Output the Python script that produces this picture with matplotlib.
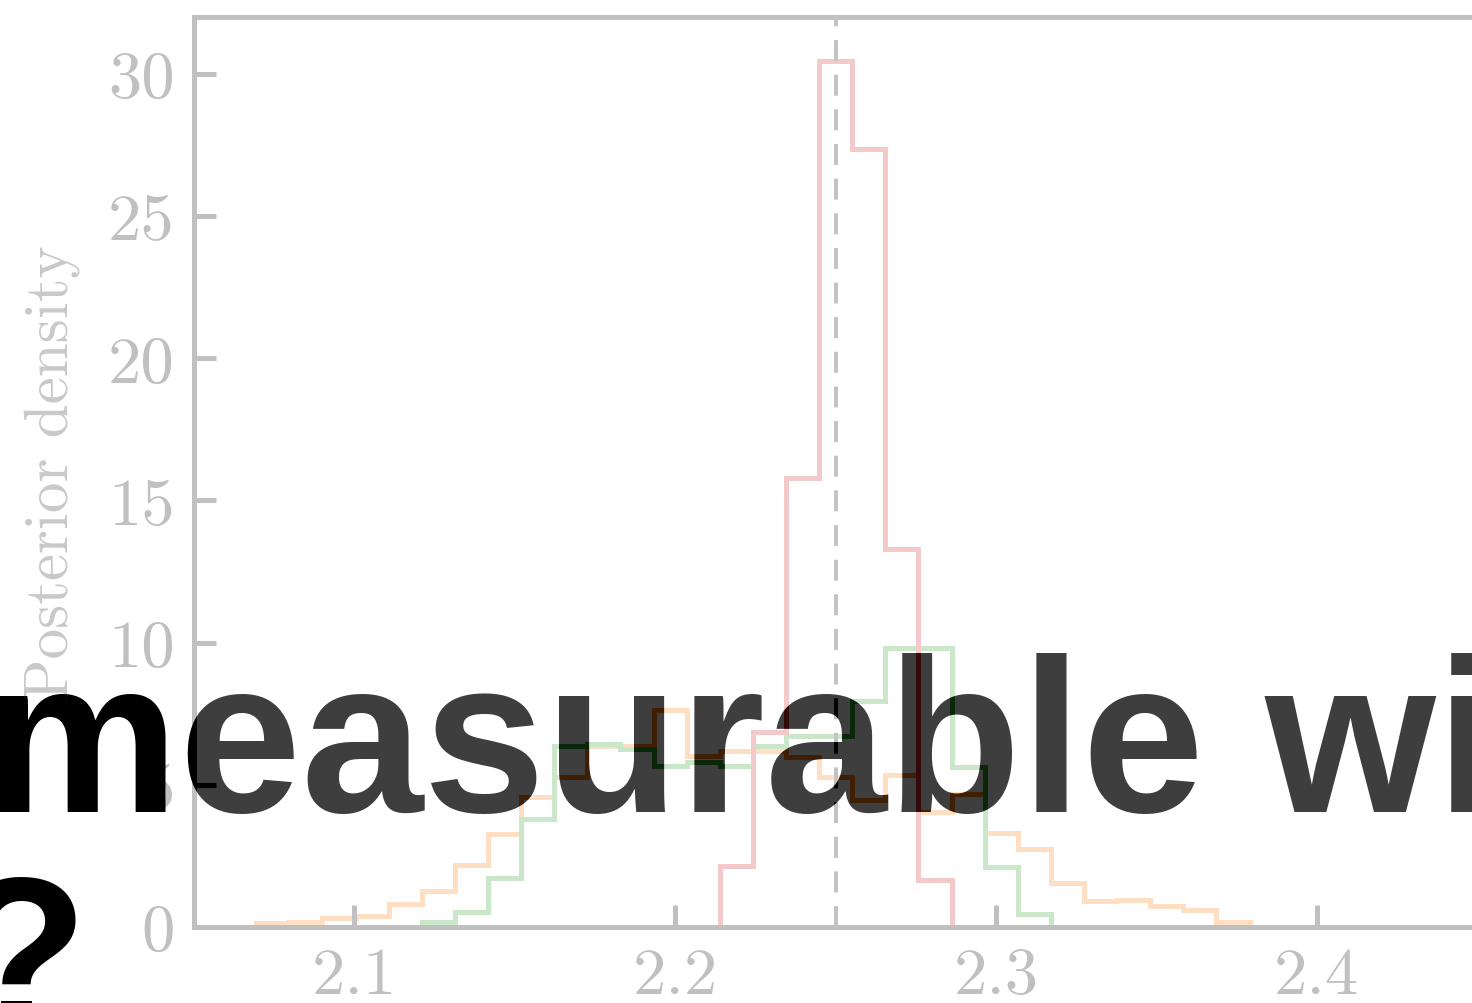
import numpy as np
import matplotlib
matplotlib.use("Agg")
import matplotlib.pyplot as plt

# shared histogram binning (30 bins)
BIN_LO = 2.0694
BIN_HI = 2.3791
N_BINS = 30

orange_density = [0.14, 0.19, 0.30, 0.40, 0.80, 1.27, 2.18, 3.27, 4.57, 5.26,
                  6.37, 6.37, 7.64, 6.02, 6.20, 6.20, 5.97, 5.26, 4.47, 5.33,
                  4.03, 4.67, 3.30, 2.74, 1.56, 0.90, 0.96, 0.75, 0.61, 0.19]
green_density = [0, 0, 0, 0, 0, 0.17, 0.53, 1.72, 3.80, 6.37,
                 6.43, 6.26, 5.66, 5.80, 5.66, 6.37, 6.72, 6.72, 7.95, 9.80,
                 9.80, 5.62, 2.10, 0.46, 0, 0, 0, 0, 0, 0]
red_density = [0, 0, 0, 0, 0, 0, 0, 0, 0, 0,
               0, 0, 0, 0, 2.14, 6.85, 15.78, 30.45, 27.35, 13.29,
               1.66, 0, 0, 0, 0, 0, 0, 0, 0, 0]

TRUE_VALUE = 2.25
x_ticks = [2.1, 2.2, 2.3, 2.4]
x_labels = ["2.1", "2.2", "2.3", "2.4"]
y_ticks = [0, 5, 10, 15, 20, 25, 30]
y_labels = ["0", "5", "10", "15", "20", "25", "30"]

title_line1 = "measurable with"
title_line2 = "?"

plt.rcParams["font.family"] = "serif"
plt.rcParams["font.serif"] = ["cmr10"]
plt.rcParams["axes.formatter.use_mathtext"] = True


def fade(img, dpi):
    # whole chart drawn as one layer at 25% opacity
    out = img.copy()
    out[..., 3] *= 0.25
    return out, 0, 0


W, H = 1472, 1004
fig = plt.figure(figsize=(W / 100, H / 100), dpi=100, facecolor="white")
ax = fig.add_axes([194 / W, (H - 928) / H, (1477 - 194) / W, (928 - 18) / H])
ax.set_facecolor("white")

edges = np.linspace(BIN_LO, BIN_HI, N_BINS + 1)
ax.stairs(orange_density, edges, color="#ff7f0e", lw=3.6, baseline=0)
ax.stairs(green_density, edges, color="#2ca02c", lw=3.6, baseline=0)
ax.stairs(red_density, edges, color="#d62728", lw=3.6, baseline=0)
ax.axvline(TRUE_VALUE, color="0.05", lw=2.9, ls=(0, (5.2, 3.4)), zorder=5)

ax.set_xlim(2.05, 2.45)
ax.set_ylim(0, 32)
ax.set_xticks(x_ticks, x_labels)
ax.set_yticks(y_ticks, y_labels)
ax.tick_params(direction="in", length=16, width=3.6, color="black",
               labelsize=48, pad=14, top=False, right=False)
for s in ax.spines.values():
    s.set_linewidth(3.6)
    s.set_color("black")
ax.set_ylabel("Posterior density", fontsize=44, color="0.15")
ax.yaxis.set_label_coords(-0.089, 0.5)
ax.set_agg_filter(fade)

fig.text(-16 / W, (H - 812) / H, title_line1, fontsize=158,
         family="Liberation Sans", weight="bold", color="black",
         ha="left", va="baseline", zorder=-1)
fig.text(-46 / W, (H - 1030) / H, title_line2, fontsize=158,
         family="Liberation Sans", weight="bold", color="black",
         ha="left", va="baseline", zorder=-1)

fig.savefig("out.png", dpi=100, facecolor="white")
